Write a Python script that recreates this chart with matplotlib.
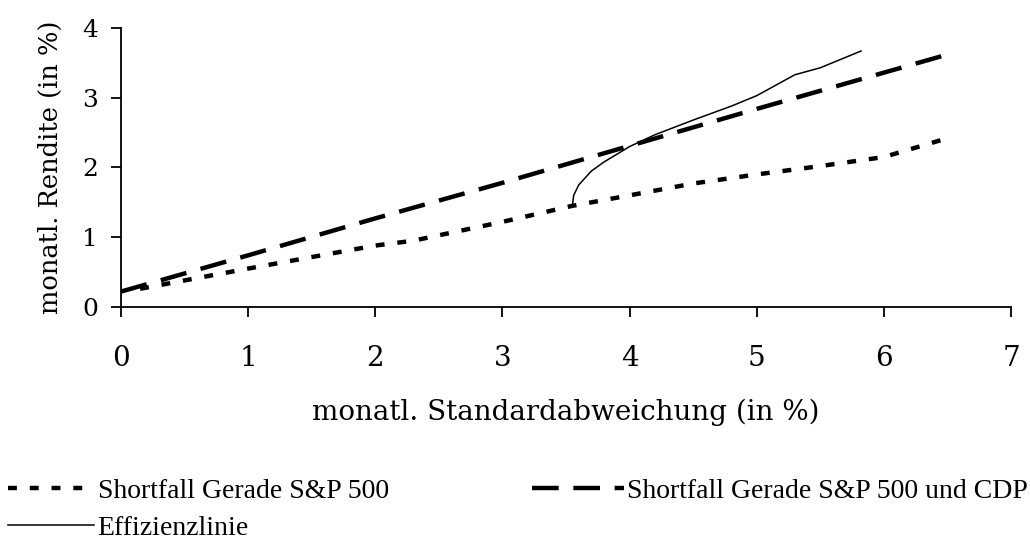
import matplotlib
matplotlib.use("Agg")
import matplotlib.pyplot as plt

# Data
sf_sp_x = [0.15, 0.5, 1.0, 2.0, 2.3, 3.0, 3.55, 4.0, 4.5, 5.0, 5.5, 6.0, 6.5]
sf_sp_y = [0.26, 0.38, 0.55, 0.88, 0.95, 1.22, 1.45, 1.60, 1.77, 1.90, 2.02, 2.15, 2.42]

sf_cdp_x = [0.0, 1.0, 2.0, 3.0, 4.0, 5.0, 6.0, 6.5]
sf_cdp_y = [0.22, 0.74, 1.27, 1.78, 2.31, 2.84, 3.36, 3.62]

eff_x = [3.55, 3.56, 3.60, 3.70, 3.80, 3.90, 4.00, 4.20, 4.50, 4.80, 5.00, 5.30, 5.50, 5.82]
eff_y = [1.45, 1.60, 1.75, 1.95, 2.08, 2.19, 2.30, 2.47, 2.68, 2.88, 3.03, 3.33, 3.43, 3.67]

xticks = [0, 1, 2, 3, 4, 5, 6, 7]
yticks = [0, 1, 2, 3, 4]

plt.rcParams['font.family'] = ['DejaVu Serif', 'Liberation Serif']

fig = plt.figure(figsize=(10.3, 5.55), dpi=100)
ax = fig.add_axes([0.1175, 0.447, 0.8641, 0.5025])

l1, = ax.plot(sf_sp_x, sf_sp_y, color='black', lw=3.2, dashes=(2.0, 2.9),
              dash_capstyle='butt', label='Shortfall Gerade S&P 500')
l2, = ax.plot(sf_cdp_x, sf_cdp_y, color='black', lw=3.2, dashes=(6.0, 3.3),
              dash_capstyle='butt', label='Shortfall Gerade S&P 500 und CDP')
l3, = ax.plot(eff_x, eff_y, color='black', lw=1.1, label='Effizienzlinie')

ax.set_xlim(0, 7)
ax.set_ylim(0, 4)
ax.set_xticks(xticks)
ax.set_yticks(yticks)
for s in ['top', 'right']:
    ax.spines[s].set_visible(False)
for s in ['left', 'bottom']:
    ax.spines[s].set_linewidth(1.3)
ax.tick_params(axis='both', direction='out', length=7.5, width=1.3)
ax.tick_params(axis='x', labelsize=20, pad=20)
ax.tick_params(axis='y', labelsize=18, pad=9)

ax.set_xlabel('monatl. Standardabweichung (in %)', fontsize=20, labelpad=19)
ax.set_ylabel('monatl. Rendite (in %)', fontsize=18.5, labelpad=14)

leg_font = {'family': 'Liberation Serif', 'size': 20}
leg1 = fig.legend(handles=[l1, l3], loc='upper left', bbox_to_anchor=(0.008, 0.138),
                  frameon=False, prop=leg_font, handlelength=3.1, handletextpad=0.12,
                  labelspacing=0.42, borderaxespad=0, borderpad=0)
leg2 = fig.legend(handles=[l2], loc='upper right', bbox_to_anchor=(0.998, 0.138),
                  frameon=False, prop=leg_font, handlelength=3.3, handletextpad=0.12,
                  borderaxespad=0, borderpad=0)

fig.savefig('out.png', dpi=100)
